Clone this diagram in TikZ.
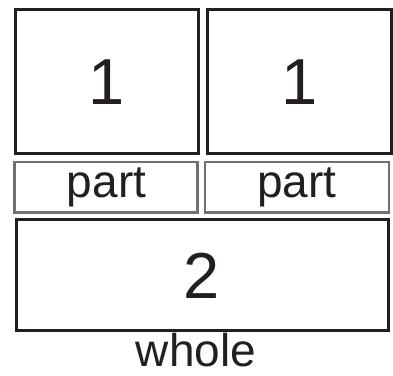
\documentclass[tikz,border=0pt]{standalone}
\usepackage{fontspec}
\setmainfont{Liberation Sans}
\definecolor{inkblack}{RGB}{35,31,32}
\definecolor{partgray}{RGB}{112,112,112}
\tikzset{
  bigbox/.style={draw=inkblack, line width=3pt, inner sep=0pt, outer sep=0pt, fill=white},
  partbox/.style={draw=partgray, line width=2.7pt, inner sep=0pt, outer sep=0pt, fill=white},
  txt/.style={text=inkblack, inner sep=0pt, outer sep=0pt, anchor=base},
  digit/.style={txt, font=\fontsize{65}{65}\selectfont},
  parttxt/.style={txt, font=\fontsize{46}{46}\selectfont},
}
\begin{document}
\begin{tikzpicture}[x=1pt, y=-1pt]
\useasboundingbox (0,0) rectangle (393,375);
\node[bigbox, minimum width=183pt, minimum height=144.5pt] (b1) at (107,81.25) {};
\node[bigbox, minimum width=183.3pt, minimum height=144.5pt] (b2) at (299.35,81.25) {};
\node[partbox, minimum width=183pt, minimum height=50.3pt] (p1) at (106.2,187.15) {};
\node[partbox, minimum width=184pt, minimum height=50.3pt] (p2) at (297,187.15) {};
\node[bigbox, minimum width=371.3pt, minimum height=111.7pt] (w) at (202.35,274.85) {};
\node[digit] (t1) at (107,104.5) {1};
\node[digit] (t2) at (299.35,104.5) {1};
\node[parttxt] (tp1) at (106.5,197.3) {part};
\node[parttxt] (tp2) at (297,197.3) {part};
\node[digit] (tw) at (201.7,298.5) {2};
\node[parttxt] (twl) at (196,366.5) {whole};
\end{tikzpicture}
\end{document}
